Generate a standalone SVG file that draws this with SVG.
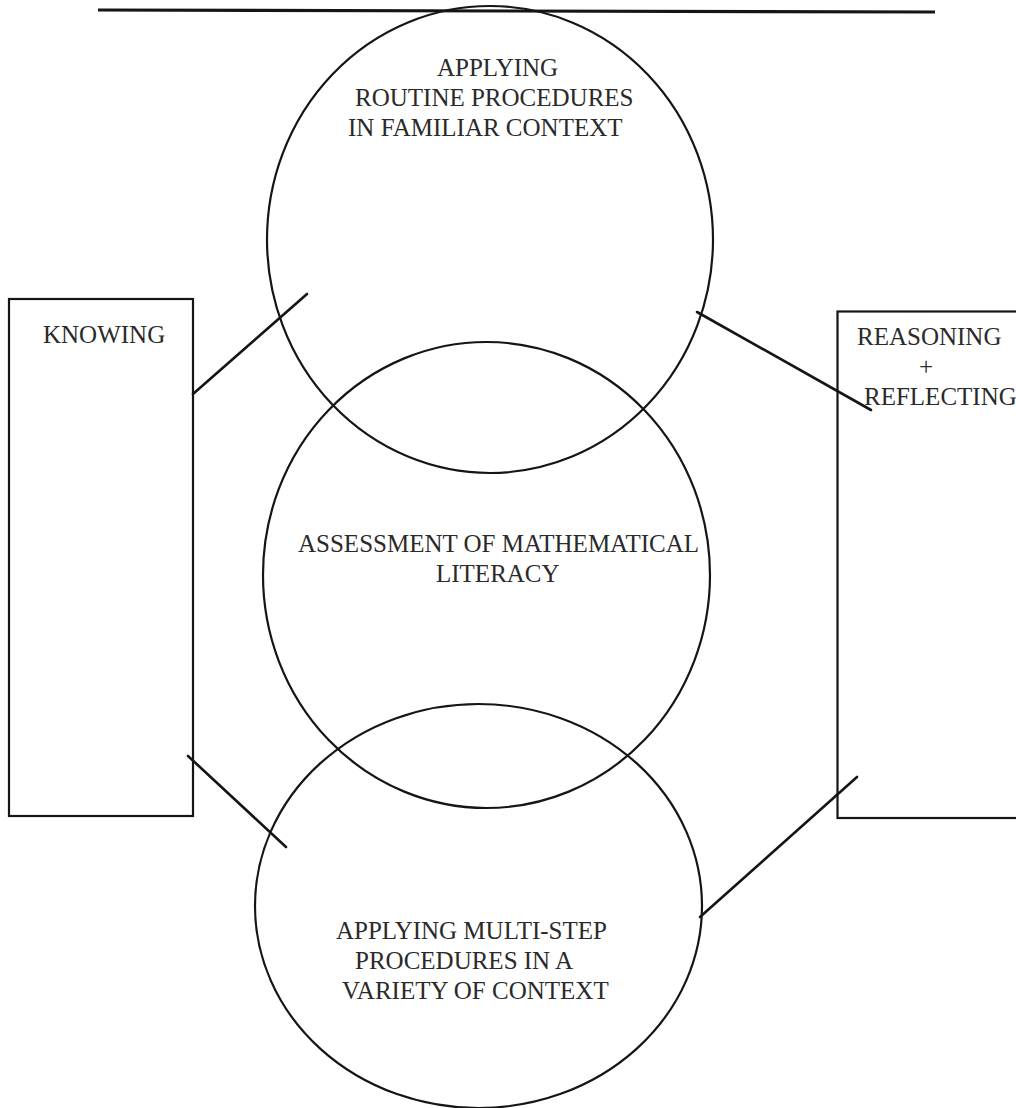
<svg xmlns="http://www.w3.org/2000/svg" width="1016" height="1108" viewBox="0 0 1016 1108">
  <style>
    .shape { fill: none; stroke: #151515; stroke-width: 2.2; }
    .link { stroke: #151515; stroke-width: 2.6; stroke-linecap: round; }
    .rule { stroke: #151515; stroke-width: 3.2; }
    .label { font-family: "Liberation Serif", "Times New Roman", serif; font-size: 25px; fill: #2a2a2a; }
  </style>
  <rect width="1016" height="1108" fill="#ffffff"/>

  <!-- header rule -->
  <line class="rule" x1="98" y1="10" x2="935" y2="12"/>

  <!-- connectors between the side boxes and the circles -->
  <g id="connectors">
    <line class="link" x1="193" y1="394" x2="307" y2="294"/>
    <line class="link" x1="697" y1="312" x2="871" y2="410"/>
    <line class="link" x1="188" y1="756" x2="286" y2="847"/>
    <line class="link" x1="857" y1="777" x2="700" y2="917"/>
  </g>

  <g id="routine">
    <ellipse class="shape" cx="490" cy="239.5" rx="223" ry="233.5"/>
    <text class="label" x="437" y="76">APPLYING</text>
    <text class="label" x="355" y="106">ROUTINE PROCEDURES</text>
    <text class="label" x="348" y="136">IN FAMILIAR CONTEXT</text>
  </g>

  <g id="assessment">
    <ellipse class="shape" cx="486.5" cy="575" rx="223.5" ry="233"/>
    <text class="label" x="298" y="552">ASSESSMENT OF MATHEMATICAL</text>
    <text class="label" x="436" y="582">LITERACY</text>
  </g>

  <g id="multistep">
    <ellipse class="shape" cx="478.5" cy="906" rx="223.5" ry="202"/>
    <text class="label" x="336" y="939">APPLYING MULTI-STEP</text>
    <text class="label" x="355" y="969">PROCEDURES IN A</text>
    <text class="label" x="342" y="999">VARIETY OF CONTEXT</text>
  </g>

  <g id="knowing">
    <rect class="shape" x="9" y="299" width="184" height="517"/>
    <text class="label" x="43" y="343">KNOWING</text>
  </g>

  <g id="reasoning">
    <rect class="shape" x="837.5" y="311.5" width="190" height="506.5"/>
    <text class="label" x="857" y="345">REASONING</text>
    <text class="label" x="926" y="375" text-anchor="middle">+</text>
    <text class="label" x="864" y="405">REFLECTING</text>
  </g>
</svg>
